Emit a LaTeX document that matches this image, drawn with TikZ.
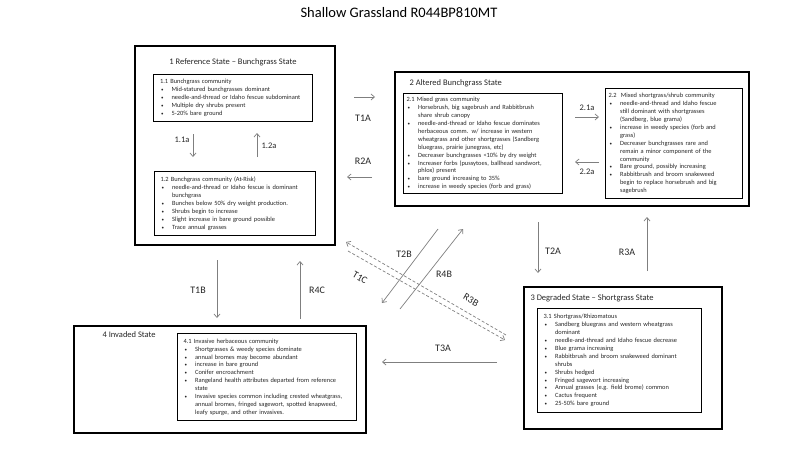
\documentclass[tikz,border=0pt]{standalone}
\usepackage{fontspec}
\setmainfont{Carlito}
\usetikzlibrary{arrows.meta}

\definecolor{arrowgray}{HTML}{7F7F7F}
\definecolor{inkgray}{HTML}{262626}

% one bullet line and one continued line of a community box
\newcommand{\itm}[1]{\mbox{\makebox[11.5pt][l]{\hspace*{1pt}{\fontsize{5}{5}\selectfont\textbullet}}#1}}
\newcommand{\cnt}[1]{\mbox{\hspace*{11.5pt}#1}}

\begin{document}
\begin{tikzpicture}[x=1pt, y=-1pt, >={Straight Barb[length=3.5pt,width=6pt]}]

\tikzstyle{state}=[draw, line width=1.5pt, anchor=north west, inner sep=0pt]
\tikzstyle{stitle}=[font=\fontsize{8.5}{10}\selectfont, text=inkgray]
\tikzstyle{comm}=[draw, line width=1.2pt, anchor=north west, align=left, inner ysep=0pt,
  text=inkgray, font=\fontsize{6.4}{7.9}\selectfont]
\tikzstyle{trans}=[->, arrowgray, line width=0.7pt]
\tikzstyle{pathway}=[trans, dash pattern=on 3pt off 2pt]
\tikzstyle{lbl}=[font=\fontsize{10}{12}\selectfont, text=inkgray]
\tikzstyle{sublbl}=[font=\fontsize{8.5}{10}\selectfont, text=inkgray]

\useasboundingbox (0,0) rectangle (800,450);

\node[font=\fontsize{14.5}{16}\selectfont, anchor=base] (title) at (399,17.5) {Shallow Grassland R044BP810MT};

% states
\node[state, minimum width=200pt, minimum height=199pt] (s1) at (134,45) {};
\node[state, minimum width=354pt, minimum height=134pt] (s2) at (394,71) {};
\node[state, minimum width=198pt, minimum height=142pt] (s3) at (523,286) {};
\node[state, minimum width=292pt, minimum height=107pt] (s4) at (73,325) {};

\node[stitle] (s1t) at (233,62) {1 Reference State -- Bunchgrass State};
\node[stitle, anchor=west] (s2t) at (406,83) {2 Altered Bunchgrass State};
\node[stitle, anchor=west] (s3t) at (527,298) {3 Degraded State -- Shortgrass State};
\node[stitle, anchor=west] (s4t) at (99,335) {4 Invaded State};

% communities
\node[comm, inner xsep=6.5pt, text width=146pt, minimum height=47pt] (c11) at (153,74) {1.1 Bunchgrass community\\
\itm{Mid-statured bunchgrasses dominant}\\
\itm{needle-and-thread or Idaho fescue subdominant}\\
\itm{Multiple dry shrubs present}\\
\itm{5-20\% bare ground}};

\node[comm, inner xsep=6pt, text width=149pt, minimum height=64pt] (c12) at (154,171) {1.2 Bunchgrass community (At-Risk)\\
\itm{needle-and-thread or Idaho fescue is dominant}\\
\cnt{bunchgrass}\\
\itm{Bunches below 50\% dry weight production.}\\
\itm{Shrubs begin to increase}\\
\itm{Slight increase in bare ground possible}\\
\itm{Trace annual grasses}};

\node[comm, inner xsep=3pt, text width=153pt, minimum height=100pt] (c21) at (403,93) {2.1 Mixed grass community\\
\itm{Horsebrush, big sagebrush and Rabbitbrush}\\
\cnt{share shrub canopy}\\
\itm{needle-and-thread or Idaho fescue dominates}\\
\cnt{herbaceous comm. w/ increase in western}\\
\cnt{wheatgrass and other shortgrasses (Sandberg}\\
\cnt{bluegrass, prairie junegrass, etc)}\\
\itm{Decreaser bunchgrasses <10\% by dry weight}\\
\itm{Increaser forbs (pussytoes, ballhead sandwort,}\\
\cnt{phlox) present}\\
\itm{bare ground increasing to 35\%}\\
\itm{increase in weedy species (forb and grass)}};

\node[comm, inner xsep=3pt, text width=131pt, minimum height=110pt] (c22) at (605,88) {2.2\ \ Mixed shortgrass/shrub community\\
\itm{needle-and-thread and Idaho fescue}\\
\cnt{still dominant with shortgrasses}\\
\cnt{(Sandberg, blue grama)}\\
\itm{increase in weedy species (forb and}\\
\cnt{grass)}\\
\itm{Decreaser bunchgrasses rare and}\\
\cnt{remain a minor component of the}\\
\cnt{community}\\
\itm{Bare ground, possibly increasing}\\
\itm{Rabbitbrush and broom snakeweed}\\
\cnt{begin to replace horsebrush and big}\\
\cnt{sagebrush}};

\node[comm, inner xsep=6pt, text width=152pt, minimum height=104pt] (c31) at (537,308) {3.1 Shortgrass/Rhizomatous\\
\itm{Sandberg bluegrass and western wheatgrass}\\
\cnt{dominant}\\
\itm{needle-and-thread and Idaho fescue decrease}\\
\itm{Blue grama increasing}\\
\itm{Rabbitbrush and broom snakeweed dominant}\\
\cnt{shrubs}\\
\itm{Shrubs hedged}\\
\itm{Fringed sagewort increasing}\\
\itm{Annual grasses (e.g. field brome) common}\\
\itm{Cactus frequent}\\
\itm{25-50\% bare ground}};

\node[comm, inner xsep=6pt, text width=167pt, minimum height=87pt] (c41) at (177,333) {4.1 Invasive herbaceous community\\
\itm{Shortgrasses \& weedy species dominate}\\
\itm{annual bromes may become abundant}\\
\itm{increase in bare ground}\\
\itm{Conifer encroachment}\\
\itm{Rangeland health attributes departed from reference}\\
\cnt{state}\\
\itm{Invasive species common including crested wheatgrass,}\\
\cnt{annual bromes, fringed sagewort, spotted knapweed,}\\
\cnt{leafy spurge, and other invasives.}};

% arrow ends
\coordinate (p11a) at (193,134); \coordinate (q11a) at (193,157);
\coordinate (p12a) at (257,157); \coordinate (q12a) at (257,133);
\coordinate (p1a) at (354,97);   \coordinate (q1a) at (375,97);
\coordinate (p2a) at (372,177);  \coordinate (q2a) at (347,177);
\coordinate (p21a) at (575,117); \coordinate (q21a) at (599,117);
\coordinate (p22a) at (599,162); \coordinate (q22a) at (575,162);
\coordinate (pt2a) at (538,222); \coordinate (qt2a) at (538,273);
\coordinate (pr3a) at (647,271); \coordinate (qr3a) at (647,217);
\coordinate (pt1b) at (217,260); \coordinate (qt1b) at (217,318);
\coordinate (pr4c) at (300,319); \coordinate (qr4c) at (300,261);
\coordinate (pt3a) at (497,362); \coordinate (qt3a) at (382,362);
\coordinate (pt2b) at (438,229); \coordinate (qt2b) at (382,303);
\coordinate (pr4b) at (400,309); \coordinate (qr4b) at (463,229);
\coordinate (pr3b) at (506,335); \coordinate (qr3b) at (346,242);
\coordinate (pt1c) at (348,251); \coordinate (qt1c) at (505,340);

\draw[trans] (p11a) -- (q11a);
\draw[trans] (p12a) -- (q12a);
\draw[trans] (p1a) -- (q1a);
\draw[trans] (p2a) -- (q2a);
\draw[trans] (p21a) -- (q21a);
\draw[trans] (p22a) -- (q22a);
\draw[trans] (pt2a) -- (qt2a);
\draw[trans] (pr3a) -- (qr3a);
\draw[trans] (pt1b) -- (qt1b);
\draw[trans] (pr4c) -- (qr4c);
\draw[trans] (pt3a) -- (qt3a);
\draw[trans] (pt2b) -- (qt2b);
\draw[trans] (pr4b) -- (qr4b);
\draw[pathway] (pr3b) -- (qr3b);
\draw[pathway] (pt1c) -- (qt1c);

% labels
\node[sublbl] (l11a) at (182,140) {1.1a};
\node[sublbl] (l12a) at (269,146) {1.2a};
\node[sublbl] (l21a) at (587,108) {2.1a};
\node[sublbl] (l22a) at (587,172) {2.2a};
\node[lbl] (lt1a) at (363,118) {T1A};
\node[lbl] (lr2a) at (363,161) {R2A};
\node[lbl] (lt2a) at (553,251) {T2A};
\node[lbl] (lr3a) at (627,252) {R3A};
\node[lbl] (lt1b) at (198,290) {T1B};
\node[lbl] (lr4c) at (317,290) {R4C};
\node[lbl] (lt3a) at (443,348) {T3A};
\node[lbl] (lt2b) at (404,254) {T2B};
\node[lbl] (lr4b) at (444,274) {R4B};
\node[lbl, rotate=-30] (lt1c) at (360,278) {T1C};
\node[lbl, rotate=-30] (lr3b) at (471,300) {R3B};

\end{tikzpicture}
\end{document}
